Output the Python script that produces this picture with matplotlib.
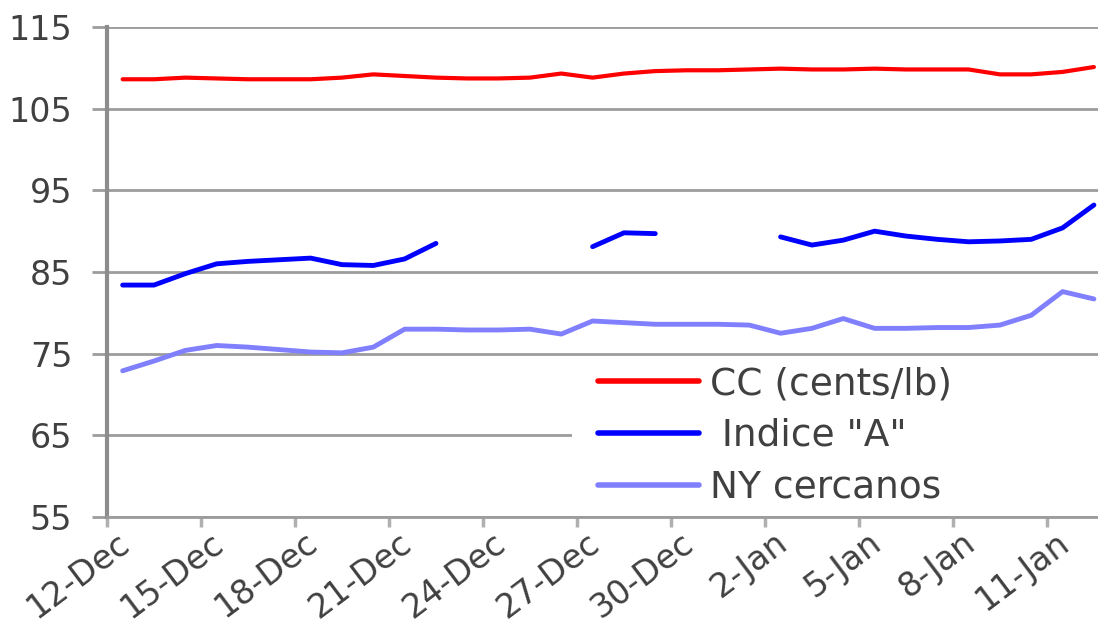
import numpy as np
import matplotlib
matplotlib.use('Agg')
import matplotlib.pyplot as plt
from matplotlib.patches import Rectangle

# data, one value per day
dates = ['12-Dec', '13-Dec', '14-Dec', '15-Dec', '16-Dec', '17-Dec', '18-Dec', '19-Dec',
         '20-Dec', '21-Dec', '22-Dec', '23-Dec', '24-Dec', '25-Dec', '26-Dec', '27-Dec',
         '28-Dec', '29-Dec', '30-Dec', '31-Dec', '1-Jan', '2-Jan', '3-Jan', '4-Jan',
         '5-Jan', '6-Jan', '7-Jan', '8-Jan', '9-Jan', '10-Jan', '11-Jan', '12-Jan']
cc = [108.6, 108.6, 108.8, 108.7, 108.6, 108.6, 108.6, 108.8, 109.2, 109.0, 108.8,
      108.7, 108.7, 108.8, 109.3, 108.8, 109.3, 109.6, 109.7, 109.7, 109.8, 109.9,
      109.8, 109.8, 109.9, 109.8, 109.8, 109.8, 109.2, 109.2, 109.5, 110.1]
nan = np.nan
indice_a = [83.4, 83.4, 84.8, 86.0, 86.3, 86.5, 86.7, 85.9, 85.8, 86.6, 88.5,
            nan, nan, nan, nan, 88.1, 89.8, 89.7, nan, nan, nan, 89.3,
            88.3, 88.9, 90.0, 89.4, 89.0, 88.7, 88.8, 89.0, 90.4, 93.2]
ny_cercanos = [72.9, 74.1, 75.4, 76.0, 75.8, 75.5, 75.2, 75.1, 75.8, 78.0, 78.0,
               77.9, 77.9, 78.0, 77.4, 79.0, 78.8, 78.6, 78.6, 78.6, 78.5, 77.5,
               78.1, 79.3, 78.1, 78.1, 78.2, 78.2, 78.5, 79.7, 82.6, 81.7]
yticks = [55, 65, 75, 85, 95, 105, 115]

txt = '#404040'
gridc = '#9c9c9c'

fig = plt.figure(figsize=(10.98, 6.25), dpi=100)
ax = fig.add_axes([107/1098, (625-517)/625, (1098-107)/1098, 490/625])

pos = np.arange(len(dates)) + 0.5
ax.plot(pos, cc, color='#ff0000', lw=3.0, solid_capstyle='round', solid_joinstyle='round',
        label='CC (cents/lb)', zorder=3)
ax.plot(pos, indice_a, color='#0000ff', lw=3.5, solid_capstyle='round', solid_joinstyle='round',
        label=' Indice "A"', zorder=3)
ax.plot(pos, ny_cercanos, color='#8080ff', lw=3.5, solid_capstyle='round', solid_joinstyle='round',
        label='NY cercanos', zorder=3)

ax.set_xlim(0, (1098-107)/31.33)
ax.set_ylim(55, 115)
ax.set_yticks(yticks)
ax.set_yticklabels([str(v) for v in yticks])

ax.set_axisbelow(True)
ax.grid(axis='y', color=gridc, lw=2.0)

# day boundaries carry the ticks; rotated labels hang from the day centre
ax.set_xticks(np.arange(0, len(dates), 3))
ax.set_xticklabels([])
ax.set_xticks(pos[::3] + 0.1, minor=True)
ax.set_xticklabels(dates[::3], minor=True, rotation=37, ha='right', va='center',
                   rotation_mode='anchor', fontsize=24, color=txt, family='DejaVu Sans')
ax.tick_params(axis='x', which='major', length=7, width=2.5, color='#b0b0b0', direction='out')
ax.tick_params(axis='x', which='minor', length=0, pad=16)
ax.tick_params(axis='y', length=11, width=2.0, color=gridc, pad=14, labelsize=24, labelcolor=txt)
for t in ax.get_yticklabels():
    t.set_family('DejaVu Sans')

for s in ['top', 'right']:
    ax.spines[s].set_visible(False)
ax.spines['left'].set_color('#8c8c8c')
ax.spines['left'].set_linewidth(3.0)
ax.spines['bottom'].set_color(gridc)
ax.spines['bottom'].set_linewidth(2.0)

# white legend area that hides the gridline behind it
ax.add_patch(Rectangle((0.469, 0.006), 0.6, 0.32, transform=ax.transAxes,
                       facecolor='white', edgecolor='none', zorder=1))
leg = ax.legend(loc='center left', bbox_to_anchor=(598/1098, (625-436)/625),
                bbox_transform=fig.transFigure, frameon=False, borderpad=0, borderaxespad=0,
                handlelength=2.7, handletextpad=0.3, labelspacing=0.42,
                prop={'family': 'DejaVu Sans', 'size': 27}, labelcolor=txt)
for h in leg.get_lines():
    h.set_linewidth(4.0)

fig.savefig('out.png', dpi=100)
